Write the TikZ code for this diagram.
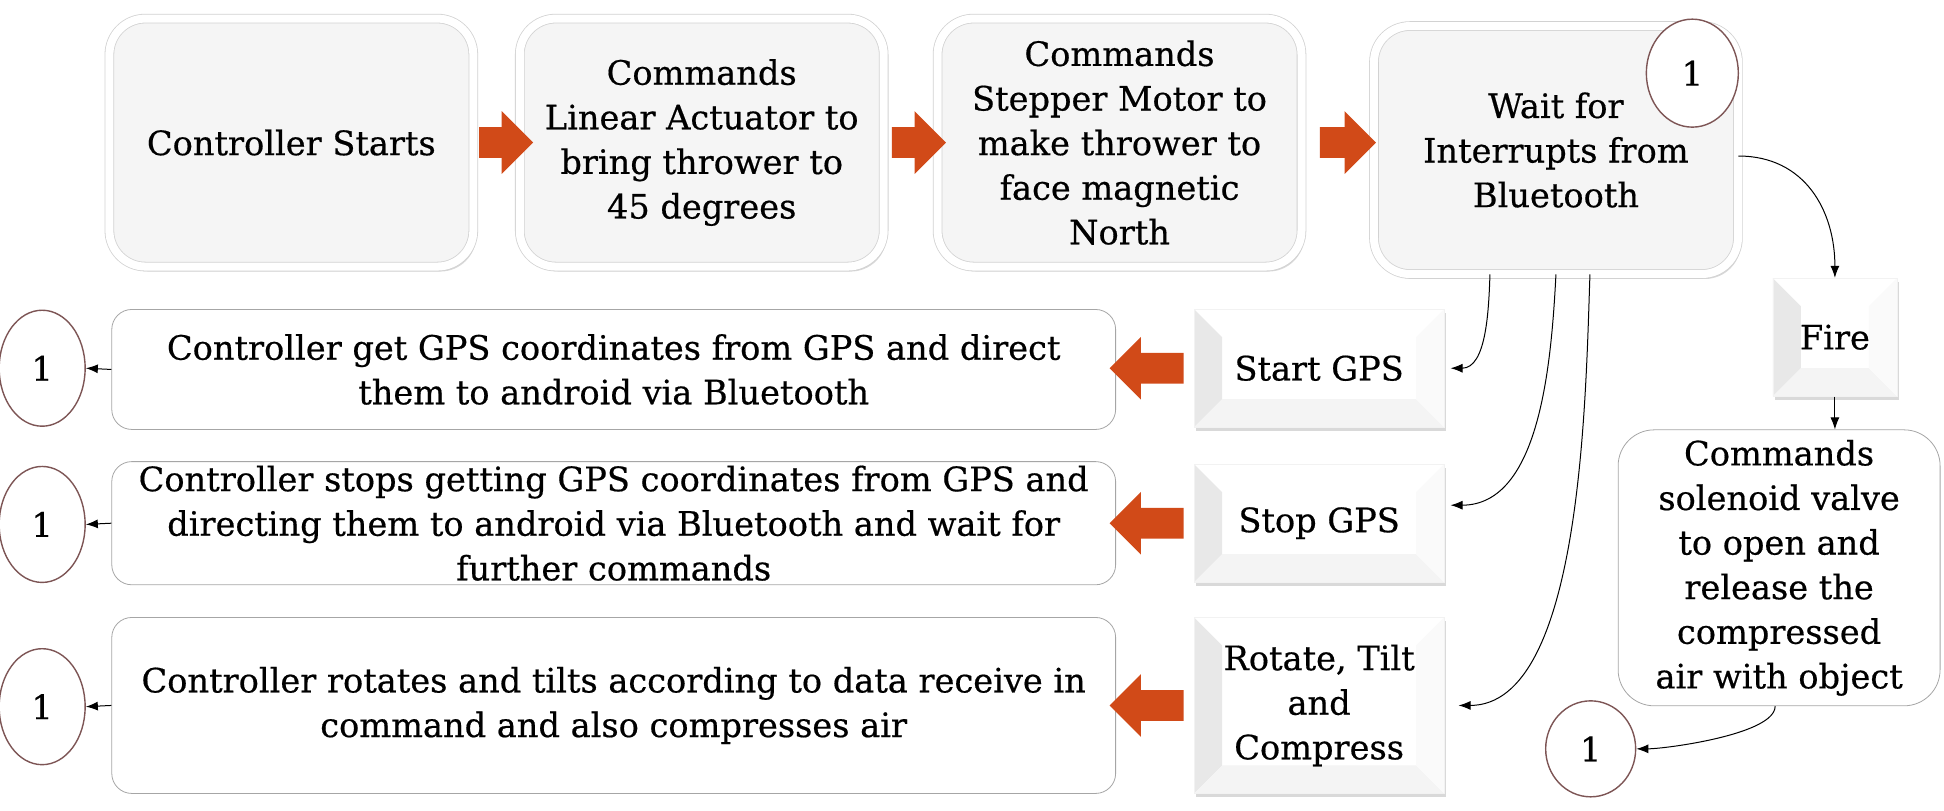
\documentclass[tikz,border=0pt]{standalone}
\usepackage{fontspec}
\setmainfont[FakeBold=0.5]{DejaVu Serif}
\usetikzlibrary{shapes.geometric,shapes.arrows,shadows,arrows.meta}

\definecolor{arroworange}{RGB}{209,74,24}
\definecolor{ringbrown}{RGB}{125,85,85}
\definecolor{panelgray}{RGB}{245,245,245}

\begin{document}
\begin{tikzpicture}[x=0.62pt,y=0.62pt,
    font=\fontsize{16.8}{22.3}\selectfont,
    stepbox/.style={rectangle,rounded corners=18pt,fill=panelgray,
      draw=gray!35,double=white,double distance=4pt,
      minimum width=182pt,minimum height=124pt,align=center,
      drop shadow={opacity=0.3,shadow xshift=1.5pt,shadow yshift=-2.5pt}},
    longbox/.style={rectangle,rounded corners=10pt,draw=gray!70,fill=white,
      minimum width=502pt,align=center,inner sep=2pt},
    bevelbox/.style={rectangle,draw=gray!10,fill=white,align=center,
      minimum width=125pt,
      drop shadow={opacity=0.3,shadow xshift=1pt,shadow yshift=-2pt},
      path picture={
        \fill[gray!18] (path picture bounding box.north west)
          -- ([shift={(14pt,-14pt)}]path picture bounding box.north west)
          -- ([shift={(14pt,14pt)}]path picture bounding box.south west)
          -- (path picture bounding box.south west) -- cycle;
        \fill[gray!9] (path picture bounding box.south west)
          -- ([shift={(14pt,14pt)}]path picture bounding box.south west)
          -- ([shift={(-14pt,14pt)}]path picture bounding box.south east)
          -- (path picture bounding box.south east) -- cycle;
        \fill[gray!4] (path picture bounding box.north east)
          -- ([shift={(-14pt,-14pt)}]path picture bounding box.north east)
          -- ([shift={(-14pt,14pt)}]path picture bounding box.south east)
          -- (path picture bounding box.south east) -- cycle;
      }},
    ring/.style={ellipse,draw=ringbrown,line width=0.7pt,fill=white,inner sep=0pt},
    bigarrow/.style={single arrow,fill=arroworange,draw=none,inner xsep=0pt,
      inner ysep=7.5pt,single arrow head extend=8pt},
    link/.style={-{Latex[length=6pt,width=4.5pt]},black,line width=0.5pt},
  ]

  \useasboundingbox (0,0) rectangle (1568,-654);

  % top row
  \node[stepbox] (start) at (235,-115) {Controller Starts};
  \node[stepbox] (actuator) at (566,-115)
    {Commands\\ Linear Actuator to\\ bring thrower to\\ 45 degrees};
  \node[stepbox] (stepper) at (903,-115)
    {Commands\\ Stepper Motor to\\ make thrower to\\ face magnetic\\ North};
  \node[stepbox] (wait) at (1255,-121)
    {Wait for\\ Interrupts from\\ Bluetooth};
  \node[ring,minimum width=46pt,minimum height=54pt] (ringtop) at (1365,-59) {1};

  \node[bigarrow,minimum height=27pt] (arrowa) at (402,-115) {};
  \node[bigarrow,minimum height=27pt] (arrowb) at (735,-115) {};
  \node[bigarrow,minimum height=28pt] (arrowc) at (1081,-115) {};

  % interrupt branches
  \node[bevelbox,minimum height=59pt] (gpson) at (1064,-297) {Start GPS};
  \node[bevelbox,minimum height=59pt] (gpsoff) at (1064,-422) {Stop GPS};
  \node[bevelbox,minimum height=88pt] (rotate) at (1064,-569)
    {Rotate, Tilt\\ and\\ Compress};

  \node[longbox,minimum height=60pt] (gpsdo) at (495,-298)
    {Controller get GPS coordinates from GPS and direct\\
     them to android via Bluetooth};
  \node[longbox,minimum height=59pt] (gpsstop) at (495,-422)
    {Controller stops getting GPS coordinates from GPS and\\
     directing them to android via Bluetooth and wait for\\
     further commands};
  \node[longbox,minimum height=88pt] (rotatedo) at (495,-569)
    {Controller rotates and tilts according to data receive in\\
     command and also compresses air};

  \node[bigarrow,shape border rotate=180,minimum height=37pt] (arrowd) at (931,-297) {};
  \node[bigarrow,shape border rotate=180,minimum height=37pt] (arrowe) at (931,-422) {};
  \node[bigarrow,shape border rotate=180,minimum height=37pt] (arrowf) at (931,-569) {};

  \node[ring,minimum width=43pt,minimum height=58pt] (ringa) at (34,-297) {1};
  \node[ring,minimum width=43pt,minimum height=58pt] (ringb) at (34,-423) {1};
  \node[ring,minimum width=43pt,minimum height=58pt] (ringc) at (34,-570) {1};

  % fire branch
  \node[bevelbox,minimum width=62pt,minimum height=59pt] (fire) at (1480,-272) {Fire};
  \node[longbox,rounded corners=18pt,minimum width=161pt,
    minimum height=138pt,inner sep=1pt] (valve) at (1435,-458)
    {Commands\\ solenoid valve\\ to open and\\ release the\\ compressed\\ air with object};
  \node[ring,minimum width=45pt,minimum height=48pt] (ringd) at (1283,-604) {1};

  % connectors
  \draw[link] ([yshift=-3pt]wait.east) to[out=0,in=90,looseness=1.1] (fire.north);
  \draw[link] ([xshift=-33pt]wait.south) to[out=-92,in=0,looseness=0.9]
    ([xshift=3pt]gpson.east);
  \draw[link] (wait.south) to[out=-93,in=0,looseness=0.9]
    ([xshift=3pt,yshift=9pt]gpsoff.east);
  \draw[link] ([xshift=17pt]wait.south) to[out=-92,in=0,looseness=0.7]
    ([xshift=7pt]rotate.east);
  \draw[link] (fire.south) -- (valve.north -| fire.south);
  \draw[link] ([xshift=-2pt]valve.south) to[out=-90,in=0,looseness=0.5] (ringd.east);
  \draw[link] (gpsdo.west) -- (ringa.east);
  \draw[link] (gpsstop.west) -- (ringb.east);
  \draw[link] (rotatedo.west) -- (ringc.east);

\end{tikzpicture}
\end{document}
